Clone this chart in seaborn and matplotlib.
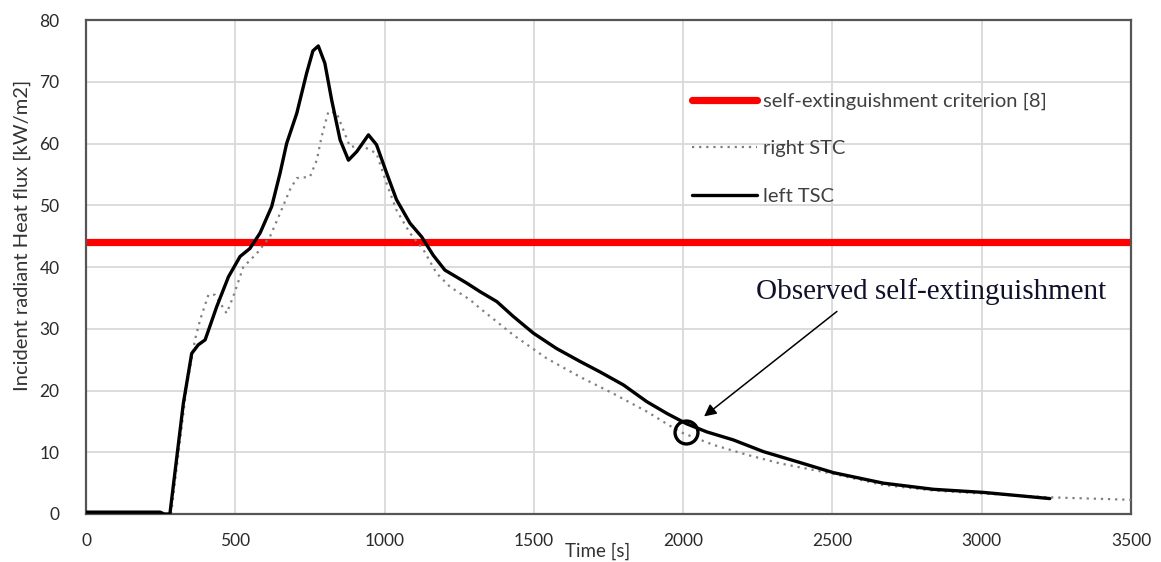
import numpy as np
import pandas as pd
import matplotlib
matplotlib.use("Agg")
import matplotlib.pyplot as plt
import seaborn as sns

# Incident radiant heat flux measured by the two thermal sensors
left_tsc_time = [0, 100, 200, 248, 262, 281, 326, 354, 376, 399, 438, 477, 516, 549,
                 583, 622, 650, 672, 706, 739, 760, 778, 800, 823, 851, 879, 907, 946,
                 973, 1007, 1040, 1085, 1124, 1163, 1202, 1275, 1320, 1376, 1431, 1498,
                 1576, 1655, 1722, 1800, 1878, 1945, 2012, 2079, 2168, 2269, 2380, 2503,
                 2670, 2838, 3005, 3228]
left_tsc_flux = [0.3, 0.3, 0.3, 0.3, 0.0, 0.0, 17.9, 26.0, 27.4, 28.2, 33.6, 38.4, 41.7, 43.0,
                 45.5, 49.8, 55.2, 60.0, 64.9, 71.4, 75.0, 75.8, 73.0, 67.0, 60.6, 57.3, 58.7, 61.4,
                 59.8, 55.2, 50.9, 47.1, 44.9, 41.9, 39.5, 37.4, 36.0, 34.4, 32.0, 29.3,
                 26.8, 24.7, 23.0, 20.9, 18.2, 16.3, 14.6, 13.3, 12.0, 10.1, 8.5, 6.7,
                 5.0, 4.0, 3.5, 2.5]

right_stc_time = [285, 337, 365, 382, 410, 432, 471, 493, 527, 572, 616, 650, 683, 706,
                  750, 773, 789, 812, 840, 862, 884, 929, 973, 1007, 1040, 1085, 1130,
                  1174, 1219, 1286, 1320, 1431, 1543, 1655, 1766, 1878, 1989, 2101, 2213,
                  2324, 2503, 2670, 2838, 3005, 3228, 3500]
right_stc_flux = [0.0, 20.6, 28.2, 31.4, 35.5, 35.5, 32.5, 35.2, 40.0, 42.2, 44.9, 48.7, 52.5, 54.4,
                  54.6, 57.3, 61.1, 65.2, 64.9, 62.2, 59.5, 59.5, 58.4, 53.5, 49.2, 45.5, 42.8,
                  39.0, 36.8, 34.7, 33.3, 29.0, 25.2, 22.2, 19.5, 16.6, 13.3, 11.2, 9.6,
                  8.2, 6.5, 4.7, 3.8, 3.3, 2.7, 2.3]

criterion_flux = 44.0
extinction_time = 2010
extinction_flux = 13.2

x_ticks = [0, 500, 1000, 1500, 2000, 2500, 3000, 3500]
y_ticks = [0, 10, 20, 30, 40, 50, 60, 70, 80]

sns.set_style("white")
plt.rcParams["font.family"] = ["Lato", "DejaVu Sans"]

fig = plt.figure(figsize=(11.61, 5.62), dpi=100)
ax = fig.add_axes([86 / 1161, 1 - 514 / 562, 1045 / 1161, 494 / 562])

left_df = pd.DataFrame({"time": left_tsc_time, "flux": left_tsc_flux})
right_df = pd.DataFrame({"time": right_stc_time, "flux": right_stc_flux})

ax.axhline(criterion_flux, color="#ff0000", lw=5.2, zorder=2,
           label="self-extinguishment criterion [8]")
sns.lineplot(data=right_df, x="time", y="flux", ax=ax, color="#808080", lw=1.6,
             linestyle=(0, (1, 2.2)), label="right STC", zorder=3)
sns.lineplot(data=left_df, x="time", y="flux", ax=ax, color="black", lw=2.4,
             label="left TSC", zorder=4, solid_joinstyle="round", solid_capstyle="round")

# circle marking the observed self-extinguishment
ax.plot([extinction_time], [extinction_flux], marker="o", markersize=16.5,
        markerfacecolor="none", markeredgecolor="black", markeredgewidth=2.4,
        zorder=5, linestyle="none")
ax.annotate("", xy=(2070, 15.8), xytext=(2515, 32.8),
            arrowprops=dict(arrowstyle="-|>", color="black", lw=1.1,
                            mutation_scale=18, shrinkA=0, shrinkB=0), zorder=6)
ax.text(2245, 36.0, "Observed self-extinguishment", family="Liberation Serif",
        fontsize=21, color="#10102a", va="center", ha="left", zorder=6)

ax.set_xlim(0, 3500)
ax.set_ylim(0, 80)
ax.set_xticks(x_ticks)
ax.set_yticks(y_ticks)
ax.grid(True, color="#d9d9d9", lw=1.3)
ax.set_axisbelow(True)
for s in ax.spines.values():
    s.set_color("#555555")
    s.set_linewidth(1.6)
ax.tick_params(axis="both", length=0, labelsize=12.5, labelcolor="#2a2a2a")
ax.tick_params(axis="x", pad=14)
ax.tick_params(axis="y", pad=19)

ax.set_xlabel("Time [s]", fontsize=13.5, color="#333333")
ax.xaxis.set_label_coords(0.49, -0.058)
ax.set_ylabel("Incident radiant Heat flux [kW/m2]", fontsize=14.5, color="#333333")
ax.yaxis.set_label_coords(-0.053, 0.565)

leg = ax.legend(loc="upper left", bbox_to_anchor=(0.58, 0.853), frameon=False,
                fontsize=14.5, labelcolor="#404040", handlelength=3.2,
                handletextpad=0.3, labelspacing=1.5, borderpad=0, borderaxespad=0)

fig.savefig("out.png", dpi=100, facecolor="white")
